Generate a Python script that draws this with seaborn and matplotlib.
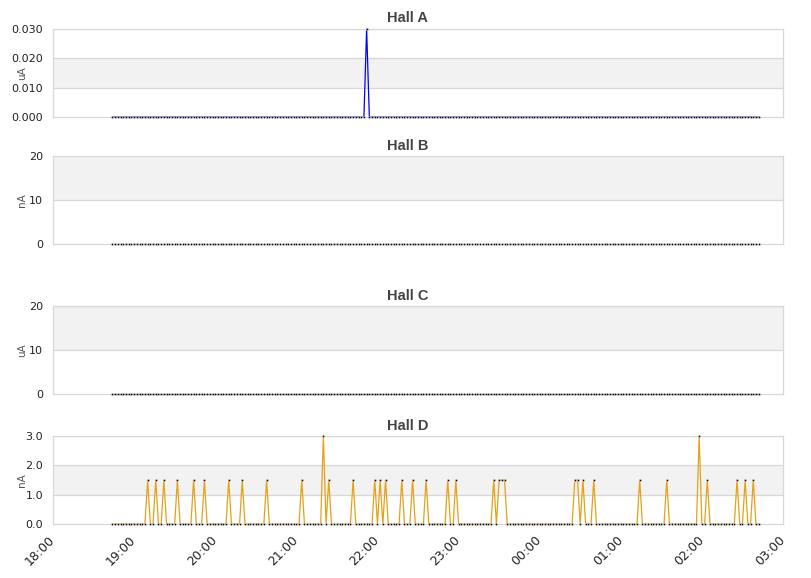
import matplotlib
matplotlib.use("Agg")
import matplotlib.dates as mdates
import matplotlib.pyplot as plt
import pandas as pd
import seaborn as sns


SAMPLE_START = "2024-01-01 18:44"
SAMPLE_END = "2024-01-02 02:42"
SAMPLE_STEP = "2min"
X_START = "2024-01-01 18:00"
X_END = "2024-01-02 03:00"

HALLS = ["Hall A", "Hall B", "Hall C", "Hall D"]
UNITS = ["uA", "nA", "uA", "nA"]
LINE_COLORS = ["#0000ff", "#7cb5ec", "#434348", "#e3a21a"]
Y_TICKS = [[0, 0.01, 0.02, 0.03], [0, 10, 20], [0, 10, 20], [0, 1, 2, 3]]
Y_FORMATS = ["{:.3f}", "{:.0f}", "{:.0f}", "{:.1f}"]

# readings that are not zero, everything else sits on 0
HALL_A_PEAKS = {"2024-01-01 21:52": 0.03}
HALL_B_PEAKS = {}
HALL_C_PEAKS = {}
HALL_D_PEAKS = {
    "2024-01-01 19:10": 1.5, "2024-01-01 19:16": 1.5, "2024-01-01 19:22": 1.5,
    "2024-01-01 19:32": 1.5, "2024-01-01 19:44": 1.5, "2024-01-01 19:52": 1.5,
    "2024-01-01 20:10": 1.5, "2024-01-01 20:20": 1.5, "2024-01-01 20:38": 1.5,
    "2024-01-01 21:04": 1.5, "2024-01-01 21:20": 3.0, "2024-01-01 21:24": 1.5,
    "2024-01-01 21:42": 1.5, "2024-01-01 21:58": 1.5, "2024-01-01 22:02": 1.5,
    "2024-01-01 22:06": 1.5, "2024-01-01 22:18": 1.5, "2024-01-01 22:26": 1.5,
    "2024-01-01 22:36": 1.5, "2024-01-01 22:52": 1.5, "2024-01-01 22:58": 1.5,
    "2024-01-01 23:26": 1.5, "2024-01-01 23:30": 1.5, "2024-01-01 23:32": 1.5,
    "2024-01-01 23:34": 1.5, "2024-01-02 00:26": 1.5, "2024-01-02 00:28": 1.5,
    "2024-01-02 00:32": 1.5, "2024-01-02 00:40": 1.5, "2024-01-02 01:14": 1.5,
    "2024-01-02 01:34": 1.5, "2024-01-02 01:58": 3.0, "2024-01-02 02:04": 1.5,
    "2024-01-02 02:26": 1.5, "2024-01-02 02:32": 1.5, "2024-01-02 02:38": 1.5,
}
ALL_PEAKS = [HALL_A_PEAKS, HALL_B_PEAKS, HALL_C_PEAKS, HALL_D_PEAKS]

# panel boxes in pixels (top, bottom) of an 811x578 canvas
PANEL_PX = [(29, 117), (156, 244), (306, 394), (436, 524)]
TITLE_Y_PX = [18.5, 145.5, 295.5, 425.5]


def build_series(peaks):
    times = pd.date_range(SAMPLE_START, SAMPLE_END, freq=SAMPLE_STEP)
    df = pd.DataFrame({"time": times, "value": 0.0})
    for t, v in peaks.items():
        df.loc[df["time"] == pd.Timestamp(t), "value"] = v
    return df


def draw_panel(fig, i):
    top, bottom = PANEL_PX[i]
    ax = fig.add_axes([53 / 811, 1 - bottom / 578, 730 / 811, (bottom - top) / 578])
    ticks = Y_TICKS[i]

    # alternating band between 2nd and 3rd gridline
    ax.axhspan(ticks[1], ticks[2], color="#f2f2f2", zorder=0, lw=0)
    for t in ticks[1:]:
        ax.axhline(t, color="#d8d8d8", lw=0.9, zorder=1)

    df = build_series(ALL_PEAKS[i])
    sns.lineplot(
        data=df, x="time", y="value", ax=ax, color=LINE_COLORS[i], lw=0.9,
        marker="o", markersize=1.7, markerfacecolor="black",
        markeredgecolor="white", markeredgewidth=0.35, zorder=3, clip_on=False,
    )

    ax.set_xlim(pd.Timestamp(X_START), pd.Timestamp(X_END))
    ax.set_ylim(ticks[0], ticks[-1])
    ax.set_yticks(ticks)
    ax.set_yticklabels([Y_FORMATS[i].format(t) for t in ticks], fontsize=8, color="#222222")
    ax.tick_params(axis="both", length=0, pad=7)
    ax.set_xlabel("")
    ax.set_ylabel(UNITS[i], fontsize=7.5, color="#555555")
    ax.yaxis.set_label_coords(-26 / 730, 0.5)
    for s in ax.spines.values():
        s.set_color("#d8d8d8")
        s.set_linewidth(0.9)

    ax.xaxis.set_major_locator(mdates.HourLocator())
    ax.xaxis.set_major_formatter(mdates.DateFormatter("%H:%M"))
    if i == 3:
        plt.setp(ax.get_xticklabels(), rotation=45, ha="right", va="center",
                 rotation_mode="anchor", fontsize=9, color="#222222")
        ax.tick_params(axis="x", pad=10)
    else:
        ax.set_xticklabels([])

    fig.text(408 / 811, 1 - TITLE_Y_PX[i] / 578, HALLS[i], ha="center", va="center",
             fontsize=10.5, fontweight="bold", color="#444444", family="Liberation Sans")
    return ax


def main():
    fig = plt.figure(figsize=(8.11, 5.78), dpi=100)
    for i in range(len(HALLS)):
        draw_panel(fig, i)
    fig.savefig("out.png", dpi=100)
    plt.close(fig)


if __name__ == "__main__":
    sns.set_theme(style="white")
    plt.rcParams["font.family"] = ["DejaVu Sans"]
    main()
